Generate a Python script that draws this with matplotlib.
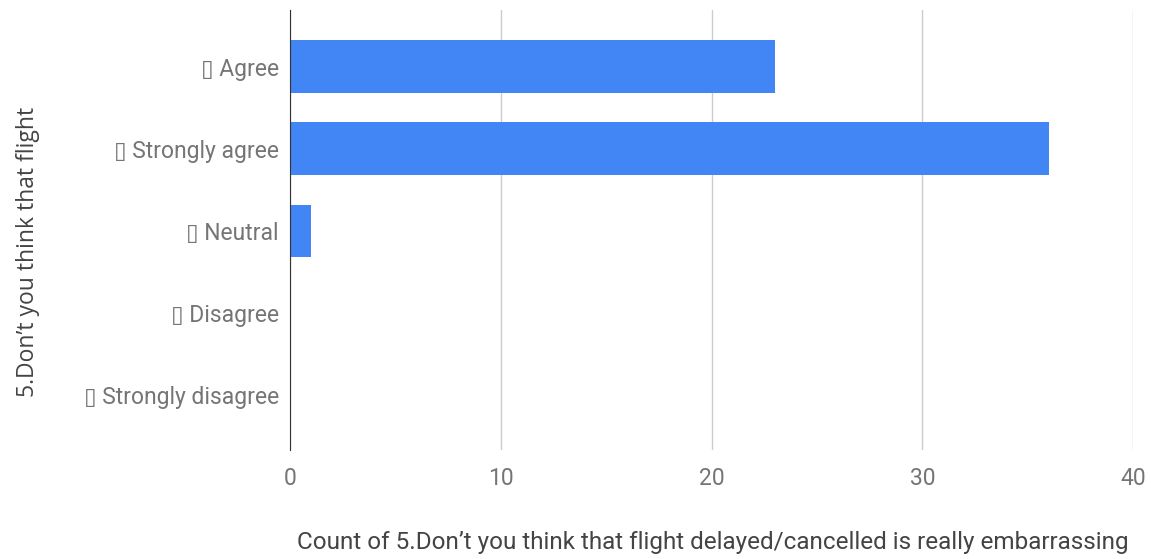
import matplotlib.pyplot as plt

# survey answers (the first char renders as a box, like in the original)
categories = ['\u25af Agree', '\u25af Strongly agree', '\u25af Neutral',
              '\u25af Disagree', '\u25af Strongly disagree']
counts = [23, 36, 1, 0, 0]
xticks = [0, 10, 20, 30, 40]

plt.rcParams['font.family'] = ['Roboto', 'DejaVu Sans']
grey = '#757575'

fig = plt.figure(figsize=(11.51, 5.59), dpi=100)
ax = fig.add_axes([290 / 1151, 1 - 450 / 559, (1133 - 290) / 1151, 440 / 559])

ax.barh(range(len(categories)), counts, height=0.64, color='#4285F4', zorder=3)
ax.set_ylim(4.67, -0.69)
ax.set_xlim(0, 40)
ax.set_xticks(xticks)
ax.set_yticks(range(len(categories)))
ax.set_yticklabels(categories)
ax.tick_params(axis='both', length=0, labelsize=16.5, colors=grey)
ax.tick_params(axis='x', pad=12)
ax.tick_params(axis='y', pad=8)
ax.grid(axis='x', color='#cccccc', linewidth=1, zorder=0)
for s in ['top', 'right', 'bottom']:
    ax.spines[s].set_visible(False)
ax.spines['left'].set_color('#333333')
ax.spines['left'].set_zorder(4)

fig.text(713 / 1151, 1 - 543 / 559,
         'Count of 5.Don\u2019t you think that flight delayed/cancelled is really embarrassing',
         ha='center', va='center', fontsize=17.5, color='#444444')
fig.text(28 / 1151, 1 - 252 / 559, '5.Don\u2019t you think that flight', rotation=90,
         ha='center', va='center', fontsize=16.5, color='#444444', family='Open Sans')

fig.savefig('out.png', dpi=100)
